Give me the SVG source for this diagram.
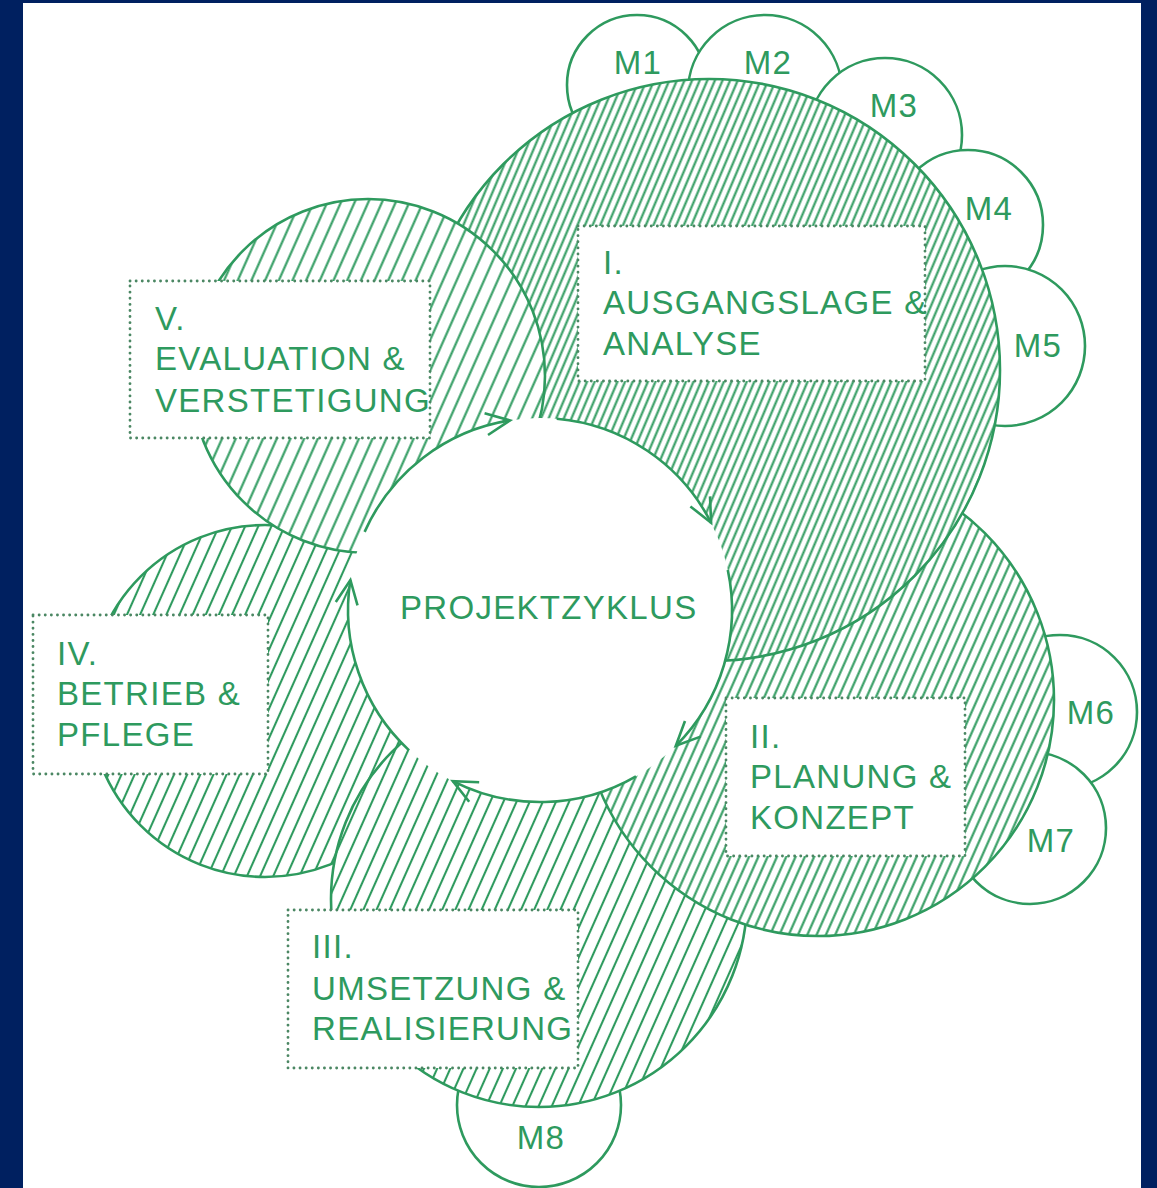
<svg xmlns="http://www.w3.org/2000/svg" width="1157" height="1188" viewBox="0 0 1157 1188">
<defs>
<style>
.ol{stroke:#2e9a5e;stroke-width:2.6}
.m{fill:#fff;stroke:#2e9a5e;stroke-width:2.6}
.bg{fill:#fff}
.box{fill:#fff;stroke:#4b8763;stroke-width:2.8;stroke-dasharray:0.1 6;stroke-linecap:round}
.t{font-family:"Liberation Sans",Arial,sans-serif;font-size:33px;letter-spacing:1.3px;fill:#2e9a5e}
.mt{text-anchor:middle}
.ring{fill:none;stroke:#2e9a5e;stroke-width:2.6;marker-end:url(#ah)}
.hl{stroke:#2e9a5e;stroke-width:2.1}
.frame{fill:#002060}
</style>
<pattern id="h1" patternUnits="userSpaceOnUse" width="7" height="20" patternTransform="rotate(23)"><line class="hl" x1="3.5" y1="0" x2="3.5" y2="20" stroke-width="1.9"/></pattern>
<pattern id="h2" patternUnits="userSpaceOnUse" width="8.5" height="20" patternTransform="rotate(24)"><line class="hl" x1="4.25" y1="0" x2="4.25" y2="20"/></pattern>
<pattern id="h3" patternUnits="userSpaceOnUse" width="12" height="20" patternTransform="rotate(24)"><line class="hl" x1="6" y1="0" x2="6" y2="20"/></pattern>
<pattern id="h4" patternUnits="userSpaceOnUse" width="12" height="20" patternTransform="rotate(24)"><line class="hl" x1="6" y1="0" x2="6" y2="20"/></pattern>
<pattern id="h5" patternUnits="userSpaceOnUse" width="12.5" height="20" patternTransform="rotate(24)"><line class="hl" x1="6.25" y1="0" x2="6.25" y2="20"/></pattern>
<marker id="ah" markerUnits="userSpaceOnUse" markerWidth="40" markerHeight="40" viewBox="-30 -20 40 40" refX="0" refY="0" orient="auto" overflow="visible"><path d="M-24,-11 L0,0 L-24,11" fill="none" stroke="#2e9a5e" stroke-width="2.6"/></marker>
</defs>

<rect x="0" y="0" width="1157" height="1188" fill="#fff"/>

<g id="modules">
<g id="M1"><circle class="m" cx="637" cy="85" r="70"/><text class="t mt" x="638" y="74">M1</text></g>
<g id="M2"><circle class="m" cx="765" cy="92" r="77"/><text class="t mt" x="768" y="74">M2</text></g>
<g id="M3"><circle class="m" cx="885" cy="135" r="77"/><text class="t mt" x="894" y="117">M3</text></g>
<g id="M4"><circle class="m" cx="968" cy="225" r="75"/><text class="t mt" x="989" y="220">M4</text></g>
<g id="M5"><circle class="m" cx="1005" cy="346" r="80"/><text class="t mt" x="1038" y="357">M5</text></g>
<g id="M6"><circle class="m" cx="1060" cy="712" r="77"/><text class="t mt" x="1091" y="724">M6</text></g>
<g id="M7"><circle class="m" cx="1030" cy="828" r="76"/><text class="t mt" x="1051" y="852">M7</text></g>
<g id="M8"><circle class="m" cx="539" cy="1105" r="82"/><text class="t mt" x="541" y="1149">M8</text></g>
</g>

<g id="phase-IV">
<circle class="bg" cx="265" cy="701" r="176"/>
<circle class="ol" cx="265" cy="701" r="176" fill="url(#h4)"/>
<rect class="box" x="33" y="615" width="235" height="159"/>
<text class="t"><tspan x="57" y="665">IV.</tspan><tspan x="57" y="705">BETRIEB &amp;</tspan><tspan x="57" y="746">PFLEGE</tspan></text>
</g>

<g id="phase-III">
<circle class="bg" cx="539" cy="899" r="208"/>
<circle class="ol" cx="539" cy="899" r="208" fill="url(#h3)"/>
<rect class="box" x="288" y="910" width="290" height="158"/>
<text class="t"><tspan x="312" y="958">III.</tspan><tspan x="312" y="1000">UMSETZUNG &amp;</tspan><tspan x="312" y="1040">REALISIERUNG</tspan></text>
</g>

<g id="phase-II">
<circle class="bg" cx="818" cy="700" r="236"/>
<circle class="ol" cx="818" cy="700" r="236" fill="url(#h2)"/>
<rect class="box" x="726" y="698" width="239" height="158"/>
<text class="t"><tspan x="750" y="748">II.</tspan><tspan x="750" y="788">PLANUNG &amp;</tspan><tspan x="750" y="829">KONZEPT</tspan></text>
</g>

<g id="phase-I">
<circle class="bg" cx="709" cy="370" r="291"/>
<circle class="ol" cx="709" cy="370" r="291" fill="url(#h1)"/>
<rect class="box" x="578" y="226" width="347" height="155"/>
<text class="t"><tspan x="603" y="274">I.</tspan><tspan x="603" y="314">AUSGANGSLAGE &amp;</tspan><tspan x="603" y="355">ANALYSE</tspan></text>
</g>

<g id="phase-V">
<circle class="bg" cx="368" cy="376" r="177"/>
<circle class="ol" cx="368" cy="376" r="177" fill="url(#h5)"/>
<rect class="box" x="130" y="281" width="300" height="157"/>
<text class="t"><tspan x="155" y="330">V.</tspan><tspan x="155" y="370">EVALUATION &amp;</tspan><tspan x="155" y="412">VERSTETIGUNG</tspan></text>
</g>

<g id="center">
<circle cx="540" cy="610" r="192" fill="#fff"/>
<text class="t" x="400" y="619" letter-spacing="1.45">PROJEKTZYKLUS</text>
</g>

<g id="connectors">
<path class="ring" d="M556.7,418.7 A192,192 0 0 1 711.1,522.8"/>
<path class="ring" d="M727.8,570.1 A192,192 0 0 1 675.8,745.8"/>
<path class="ring" d="M636,776.3 A192,192 0 0 1 452.8,781.1"/>
<path class="ring" d="M409.1,750.4 A192,192 0 0 1 350.4,580"/>
<path class="ring" d="M364.6,531.9 A192,192 0 0 1 510,420.4"/>
</g>

<g id="frame">
<rect class="frame" x="0" y="0" width="23" height="1188"/>
<rect class="frame" x="0" y="0" width="1157" height="3"/>
<rect class="frame" x="1141" y="0" width="16" height="1188"/>
</g>
</svg>
